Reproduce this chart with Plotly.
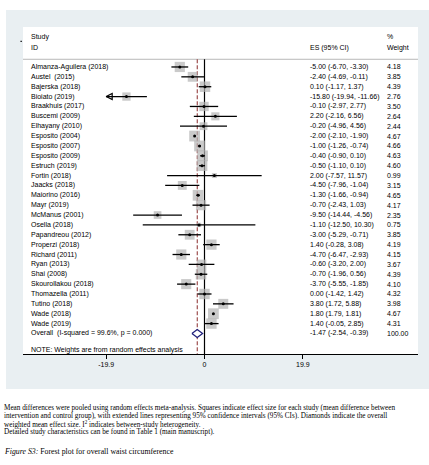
import math

import plotly.graph_objects as go

studies = ['Almanza-Aguilera (2018)', 'Austel  (2015)', 'Bajerska (2018)', 'Bioiato (2019)',
           'Braakhuis (2017)', 'Buscemi (2009)', 'Elhayany (2010)', 'Esposito (2004)',
           'Esposito (2007)', 'Esposito (2009)', 'Estruch (2019)', 'Fortin (2018)',
           'Jaacks (2018)', 'Maiorino (2016)', 'Mayr (2019)', 'McManus (2001)',
           'Osella (2018)', 'Papandreou (2012)', 'Properzi (2018)', 'Richard (2011)',
           'Ryan (2013)', 'Shai (2008)', 'Skourollakou (2018)', 'Thomazella (2011)',
           'Tutino (2018)', 'Wade (2018)', 'Wade (2019)']
es = [-5.00, -2.40, 0.10, -15.80, -0.10, 2.20, -0.20, -2.00, -1.00, -0.40, -0.50, 2.00,
      -4.50, -1.30, -0.70, -9.50, -1.10, -3.00, 1.40, -4.70, -0.60, -0.70, -3.70, 0.00,
      3.80, 1.80, 1.40]
ci_low = [-6.70, -4.69, -1.17, -19.94, -2.97, -2.16, -4.96, -2.10, -1.26, -0.90, -1.10, -7.57,
          -7.96, -1.66, -2.43, -14.44, -12.50, -5.29, -0.28, -6.47, -3.20, -1.96, -5.55, -1.42,
          1.72, 1.79, -0.05]
ci_high = [-3.30, -0.11, 1.37, -11.66, 2.77, 6.56, 4.56, -1.90, -0.74, 0.10, 0.10, 11.57,
           -1.04, -0.94, 1.03, -4.56, 10.30, -0.71, 3.08, -2.93, 2.00, 0.56, -1.85, 1.42,
           5.88, 1.81, 2.85]
weights = [4.18, 3.85, 4.39, 2.76, 3.50, 2.64, 2.44, 4.67, 4.66, 4.63, 4.60, 0.99, 3.15, 4.65,
           4.17, 2.35, 0.75, 3.85, 4.19, 4.15, 3.67, 4.39, 4.10, 4.32, 3.98, 4.67, 4.31]
overall = (-1.47, -2.54, -0.39)
overall_label = 'Overall  (I-squared = 99.6%, p = 0.000)'
note = 'NOTE: Weights are from random effects analysis'
tick_vals = [-19.9, 0, 19.9]
tick_text = ['-19.9', '0', '19.9']
caption = [
    'Mean differences were pooled using random effects meta-analysis. Squares indicate effect size for each study (mean difference between',
    'intervention and control group), with extended lines representing 95% confidence intervals (95% CIs). Diamonds indicate the overall',
    'weighted mean effect size. I<sup>2</sup> indicates between-study heterogeneity.',
    'Detailed study characteristics can be found in Table 1 (main manuscript).',
]
fig_title = '<i>Figure S3:</i> Forest plot for overall waist circumference'

LIM = 19.9
SANS = 'Liberation Sans, Arial, sans-serif'
SERIF = 'Liberation Serif, Times New Roman, serif'
W, H = 429, 465
L, R, T, B = 23, 11, 27, 111
pw, ph = W - L - R, H - T - B

rows = list(range(len(studies)))
n = len(studies)
sep_row = -0.78
y_bottom, y_top = 29.08, -4.05


def px_x(p):
    return (p - L) / pw


def px_y(p):
    return (H - B - p) / ph


# CI lines, clipped at the axis limits
cx, cy = [], []
left_arrows, right_arrows = [], []
for i, (lo, hi) in enumerate(zip(ci_low, ci_high)):
    cx += [max(lo, -LIM), min(hi, LIM), None]
    cy += [i, i, None]
    if lo < -LIM:
        left_arrows.append(i)
    if hi > LIM:
        right_arrows.append(i)

fig = go.Figure()
fig.add_trace(go.Scatter(
    x=es, y=rows, mode='markers',
    marker=dict(symbol='square', color='#b3b3b3',
                size=[5 * math.sqrt(w) for w in weights], line=dict(width=0)),
    hoverinfo='skip'))
fig.add_trace(go.Scatter(x=cx, y=cy, mode='lines', line=dict(color='black', width=1.3),
                         hoverinfo='skip'))
fig.add_trace(go.Scatter(x=es, y=rows, mode='markers',
                         marker=dict(symbol='circle', color='black', size=3),
                         hoverinfo='skip'))
if left_arrows:
    fig.add_trace(go.Scatter(x=[-LIM] * len(left_arrows), y=left_arrows, mode='markers',
                             marker=dict(symbol='arrow-left-open', size=6, color='black',
                                         line=dict(width=1.2, color='black')),
                             hoverinfo='skip'))
if right_arrows:
    fig.add_trace(go.Scatter(x=[LIM] * len(right_arrows), y=right_arrows, mode='markers',
                             marker=dict(symbol='arrow-right-open', size=6, color='black',
                                         line=dict(width=1.2, color='black')),
                             hoverinfo='skip'))

est, olo, ohi = overall
fig.add_trace(go.Scatter(
    x=[olo, est, ohi, est, olo], y=[n, n - 0.4, n, n + 0.4, n],
    mode='lines', fill='toself', fillcolor='white',
    line=dict(color='#1f1f7a', width=1.3), hoverinfo='skip'))

shapes = [
    dict(type='rect', xref='paper', yref='paper', x0=px_x(6), x1=px_x(440),
         y0=px_y(389), y1=px_y(10), fillcolor='#e9eff2', line=dict(width=0), layer='below'),
    dict(type='rect', xref='paper', yref='paper', x0=0, x1=1, y0=0, y1=1,
         fillcolor='white', line=dict(width=0), layer='below'),
    dict(type='line', xref='paper', yref='y', x0=0, x1=1, y0=sep_row, y1=sep_row,
         line=dict(color='#b8b8b8', width=1), layer='below'),
    dict(type='line', xref='x', yref='y', x0=0, x1=0, y0=sep_row, y1=y_bottom,
         line=dict(color='black', width=1.2), layer='below'),
    dict(type='line', xref='x', yref='y', x0=est, x1=est, y0=sep_row, y1=y_bottom,
         line=dict(color='#8b2b2b', width=1, dash='4px,2px'), layer='below'),
    # small stray dot left of the header
    dict(type='rect', xref='paper', yref='y', x0=px_x(20.5), x1=px_x(21.8),
         y0=-2.66, y1=-2.54, fillcolor='black', line=dict(width=0)),
]

ann = []
tf = dict(family=SANS, size=7, color='black')
x_name, x_es, x_w = px_x(29), px_x(308), px_x(385)
for i, s in enumerate(studies):
    ann.append(dict(x=x_name, y=i, xref='paper', yref='y', text=s, showarrow=False,
                    xanchor='left', font=tf))
    ann.append(dict(x=x_es, y=i, xref='paper', yref='y',
                    text=f'{es[i]:.2f} ({ci_low[i]:.2f}, {ci_high[i]:.2f})',
                    showarrow=False, xanchor='left', font=tf))
    ann.append(dict(x=x_w, y=i, xref='paper', yref='y', text=f'{weights[i]:.2f}',
                    showarrow=False, xanchor='left', font=tf))
ann += [
    dict(x=x_name, y=n, xref='paper', yref='y', text=overall_label, showarrow=False,
         xanchor='left', font=tf),
    dict(x=x_es, y=n, xref='paper', yref='y', text=f'{est:.2f} ({olo:.2f}, {ohi:.2f})',
         showarrow=False, xanchor='left', font=tf),
    dict(x=x_w, y=n, xref='paper', yref='y', text='100.00', showarrow=False,
         xanchor='left', font=tf),
    dict(x=x_name, y=28.64, xref='paper', yref='y', text=note, showarrow=False,
         xanchor='left', font=tf),
    dict(x=x_name, y=-3.04, xref='paper', yref='y', text='Study', showarrow=False,
         xanchor='left', font=tf),
    dict(x=x_name, y=-1.97, xref='paper', yref='y', text='ID', showarrow=False,
         xanchor='left', font=tf),
    dict(x=x_es, y=-1.97, xref='paper', yref='y', text='ES (95% CI)', showarrow=False,
         xanchor='left', font=tf),
    dict(x=x_w, y=-3.04, xref='paper', yref='y', text='%', showarrow=False,
         xanchor='left', font=tf),
    dict(x=x_w, y=-1.97, xref='paper', yref='y', text='Weight', showarrow=False,
         xanchor='left', font=tf),
]
cf = dict(family=SERIF, size=7.2, color='black')
for k, line in enumerate(caption):
    ann.append(dict(x=px_x(1.5), y=px_y(407.7 + 8.2 * k), xref='paper', yref='paper',
                    text=line, showarrow=False, xanchor='left', yanchor='middle', font=cf))
ann.append(dict(x=px_x(1.5), y=px_y(451), xref='paper', yref='paper', text=fig_title,
                showarrow=False, xanchor='left', yanchor='middle',
                font=dict(family=SERIF, size=7.8, color='black')))

zero_px = 204.5
scale = 4.94
fig.update_layout(
    width=W, height=H,
    margin=dict(l=L, r=R, t=T, b=B, pad=0),
    paper_bgcolor='white', plot_bgcolor='rgba(0,0,0,0)',
    showlegend=False,
    shapes=shapes, annotations=ann,
    xaxis=dict(range=[-(zero_px - L) / scale, (W - R - zero_px) / scale],
               tickvals=tick_vals, ticktext=tick_text, ticks='outside', ticklen=4,
               tickcolor='black', tickwidth=1, showline=True, linecolor='black',
               linewidth=1, showgrid=False, zeroline=False,
               tickfont=dict(family=SANS, size=7, color='black')),
    yaxis=dict(range=[y_bottom, y_top], visible=False, showgrid=False, zeroline=False),
)

# drop the browser's default body margin so the figure sits at the page corner
fig.write_html("out.html", config={'displayModeBar': False},
               post_script="document.body.style.margin='0';document.body.style.overflow='hidden';")
